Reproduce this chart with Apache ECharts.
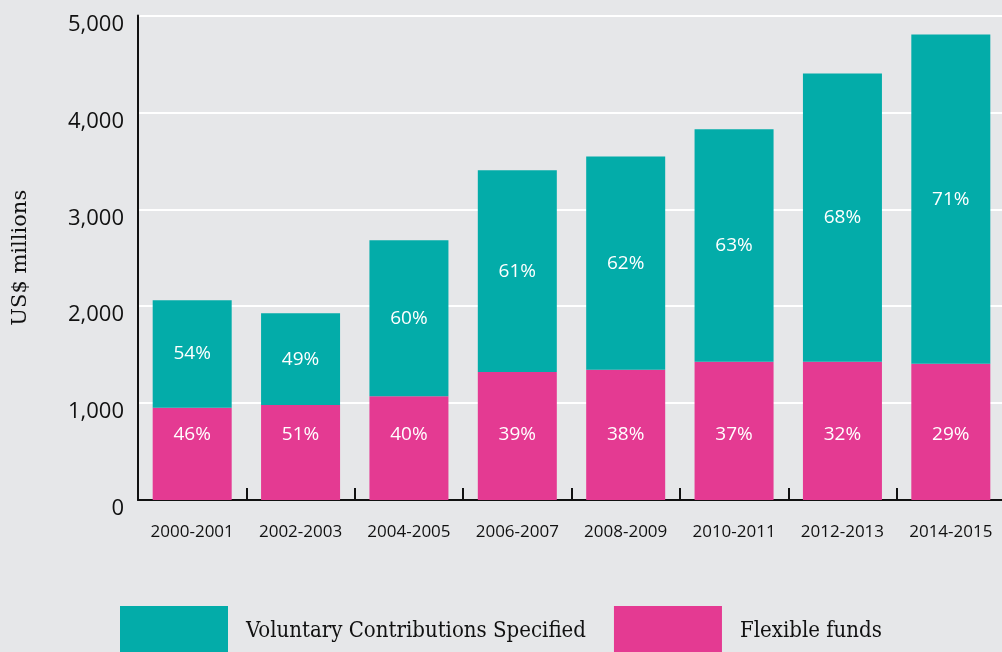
<!DOCTYPE html>
<html>
<head>
<meta charset="utf-8">
<script src="https://cdn.jsdelivr.net/npm/echarts@6/dist/echarts.min.js"></script>
<style>
  html, body { margin: 0; padding: 0; background: #e6e7e9; }
  #chart { width: 1002px; height: 652px; }
</style>
</head>
<body>
<div id="chart"></div>
<script>
// Biennium periods on the x axis
const periods = ['2000-2001', '2002-2003', '2004-2005', '2006-2007', '2008-2009', '2010-2011', '2012-2013', '2014-2015'];
// US$ millions per biennium
const specified = [1109, 948, 1610, 2082, 2203, 2399, 2976, 3399];
const flexible = [953, 980, 1070, 1320, 1343, 1426, 1426, 1405];
// Y axis ticks
const yTicks = [0, 1000, 2000, 3000, 4000, 5000];

const seriesNames = ['Voluntary Contributions Specified', 'Flexible funds'];

// Shares of each biennium's total, as printed on the bars
const flexPct = flexible.map((f, i) => Math.round(f / (f + specified[i]) * 100));
const specPct = flexPct.map(p => 100 - p);

const TEAL = '#03aca9';
const PINK = '#e43a92';

const chart = echarts.init(document.getElementById('chart'));

chart.setOption({
  backgroundColor: '#e6e7e9',
  animation: false,
  grid: { left: 138, right: -3, top: 15.5, bottom: 152, containLabel: false, outerBoundsMode: 'none' },
  legend: {
    top: 606,
    left: 120,
    padding: 0,
    itemWidth: 108,
    itemHeight: 50,
    itemGap: 28,
    icon: 'rect',
    textStyle: {
      fontFamily: 'DejaVu Serif Condensed',
      fontSize: 22,
      color: '#111',
      padding: [0, 0, 0, 13]
    },
    data: seriesNames
  },
  xAxis: {
    type: 'category',
    data: periods,
    axisLine: { show: true, lineStyle: { color: '#111', width: 2 } },
    axisTick: { show: true, inside: true, length: 12, lineStyle: { color: '#111', width: 2 } },
    axisLabel: {
      margin: 24,
      fontFamily: 'Open Sans',
      fontSize: 17,
      color: '#111'
    },
    splitLine: { show: false }
  },
  yAxis: {
    type: 'value',
    min: yTicks[0],
    max: yTicks[yTicks.length - 1],
    interval: 1000,
    name: 'US$ millions',
    nameLocation: 'middle',
    nameGap: 107,
    nameTextStyle: { fontFamily: 'DejaVu Serif', fontSize: 21, color: '#111' },
    axisLine: { show: true, lineStyle: { color: '#111', width: 2 } },
    axisTick: { show: false },
    axisLabel: {
      margin: 14,
      fontFamily: 'Open Sans',
      fontSize: 22,
      color: '#111',
      verticalAlign: 'top',
      padding: [-2, 0, 0, 0],
      formatter: v => v.toLocaleString('en-US')
    },
    splitLine: { show: true, lineStyle: { color: '#ffffff', width: 2 } }
  },
  series: [
    {
      name: seriesNames[1],
      type: 'bar',
      stack: 'total',
      barWidth: 79,
      itemStyle: { color: PINK },
      label: {
        show: true,
        position: 'insideBottom',
        distance: 56,
        color: '#fff',
        fontFamily: 'Open Sans',
        fontSize: 19,
        formatter: p => flexPct[p.dataIndex] + '%'
      },
      data: flexible,
      z: 3
    },
    {
      name: seriesNames[0],
      type: 'bar',
      stack: 'total',
      barWidth: 79,
      itemStyle: { color: TEAL },
      label: {
        show: true,
        position: 'inside',
        color: '#fff',
        fontFamily: 'Open Sans',
        fontSize: 19,
        formatter: p => specPct[p.dataIndex] + '%'
      },
      data: specified,
      z: 3
    }
  ]
});
</script>
</body>
</html>
